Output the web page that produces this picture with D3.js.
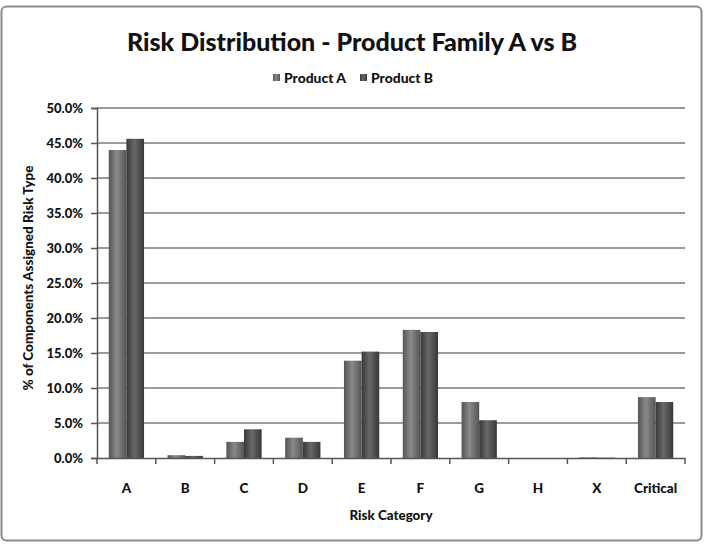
<!DOCTYPE html>
<html><head><meta charset="utf-8">
<script src="https://cdn.jsdelivr.net/npm/d3@7"></script>
<style>body{margin:0;background:#fff}svg{display:block}text{font-family:Lato,"Open Sans",sans-serif;font-weight:900;fill:#111}</style>
</head><body><svg id="c" width="708" height="549"></svg>
<script>
const categories = ["A","B","C","D","E","F","G","H","X","Critical"];
const productA = [44.0, 0.4, 2.3, 2.9, 13.9, 18.3, 8.0, 0.0, 0.1, 8.7];
const productB = [45.6, 0.3, 4.1, 2.3, 15.2, 18.0, 5.4, 0.0, 0.05, 8.0];
const seriesNames = ["Product A","Product B"];
const yTicks = [0,5,10,15,20,25,30,35,40,45,50];

const svg = d3.select("#c");
const defs = svg.append("defs");
const grads = [["gA","#555","#8a8a8a"],["gB","#383838","#686868"]];
grads.forEach(([id,e,c])=>{
  const g = defs.append("linearGradient").attr("id",id).attr("x1","0").attr("x2","1").attr("y1","0").attr("y2","0");
  g.append("stop").attr("offset","0").attr("stop-color",e);
  g.append("stop").attr("offset","0.45").attr("stop-color",c);
  g.append("stop").attr("offset","1").attr("stop-color",e);
});

svg.append("rect").attr("x",1.5).attr("y",6.5).attr("width",700).attr("height",534).attr("rx",5)
  .attr("fill","#fff").attr("stroke","#8a8a8a").attr("stroke-width",2);

const m = {l:97,r:685,t:108,b:458};
const x = d3.scaleBand().domain(categories).range([m.l,m.r]).paddingInner(0.4).paddingOuter(0.2);
const xb = d3.scaleBand().domain(categories).range([m.l,m.r]);
const x1 = d3.scaleBand().domain(seriesNames).range([0,x.bandwidth()]);
const y = d3.scaleLinear().domain([0,50]).range([m.b,m.t]);

// gridlines
svg.append("g").selectAll("line").data(yTicks.slice(1)).join("line")
  .attr("x1",m.l).attr("x2",m.r).attr("y1",d=>y(d)).attr("y2",d=>y(d))
  .attr("stroke","#7a7a7a").attr("stroke-width",1.5);

// bars
const data = categories.map((c,i)=>({c, v:[productA[i],productB[i]]}));
const grp = svg.append("g").selectAll("g").data(data).join("g").attr("transform",d=>`translate(${x(d.c)},0)`);
grp.selectAll("rect").data(d=>d.v.map((v,j)=>({v,s:seriesNames[j],j}))).join("rect")
  .attr("x",d=>x1(d.s)).attr("width",x1.bandwidth())
  .attr("y",d=>y(d.v)).attr("height",d=>m.b-y(d.v))
  .attr("fill",d=>`url(#${grads[d.j][0]})`);

// y axis
const ya = svg.append("g").attr("transform",`translate(${m.l},0)`)
  .call(d3.axisLeft(y).tickValues(yTicks).tickFormat(d=>d.toFixed(1)+"%").tickSizeOuter(0).tickSize(6).tickPadding(8));
ya.select(".domain").attr("stroke","#555").attr("stroke-width",1.5);
ya.selectAll(".tick line").attr("stroke","#555").attr("stroke-width",1.5);
ya.selectAll("text").attr("font-size",13).style("font-family","Lato,sans-serif").style("font-weight","900").attr("fill","#111");

// x axis
const xa = svg.append("g").attr("transform",`translate(0,${m.b})`)
  .call(d3.axisBottom(xb).tickSize(0).tickPadding(25).tickSizeOuter(0));
xa.select(".domain").attr("stroke","#555").attr("stroke-width",1.5);
xa.selectAll("text").attr("font-size",13.5).style("font-family","Lato,sans-serif").style("font-weight","900").attr("fill","#111");
svg.append("g").selectAll("line").data(categories.concat(["_end"])).join("line")
  .attr("x1",(d,i)=>m.l+i*xb.step()).attr("x2",(d,i)=>m.l+i*xb.step())
  .attr("y1",m.b).attr("y2",m.b+6).attr("stroke","#555").attr("stroke-width",1.5);

// titles
svg.append("text").attr("x",352).attr("y",51).attr("text-anchor","middle").attr("font-size",25)
  .attr("textLength",450).attr("lengthAdjust","spacingAndGlyphs")
  .text("Risk Distribution - Product Family A vs B");
svg.append("text").attr("x",391).attr("y",520).attr("text-anchor","middle").attr("font-size",13.5)
  .attr("textLength",83).attr("lengthAdjust","spacingAndGlyphs").text("Risk Category");
svg.append("text").attr("transform","translate(33,278) rotate(-90)").attr("text-anchor","middle").attr("font-size",13.5)
  .attr("textLength",225).attr("lengthAdjust","spacingAndGlyphs")
  .text("% of Components Assigned Risk Type");

// legend
const leg = svg.append("g");
const lx = [273, 360];
seriesNames.forEach((s,i)=>{
  leg.append("rect").attr("x",lx[i]).attr("y",74).attr("width",7).attr("height",7).attr("fill",`url(#${grads[i][0]})`);
  leg.append("text").attr("x",lx[i]+11).attr("y",83).attr("font-size",13)
    .attr("textLength",62).attr("lengthAdjust","spacingAndGlyphs").text(s);
});
</script></body></html>
